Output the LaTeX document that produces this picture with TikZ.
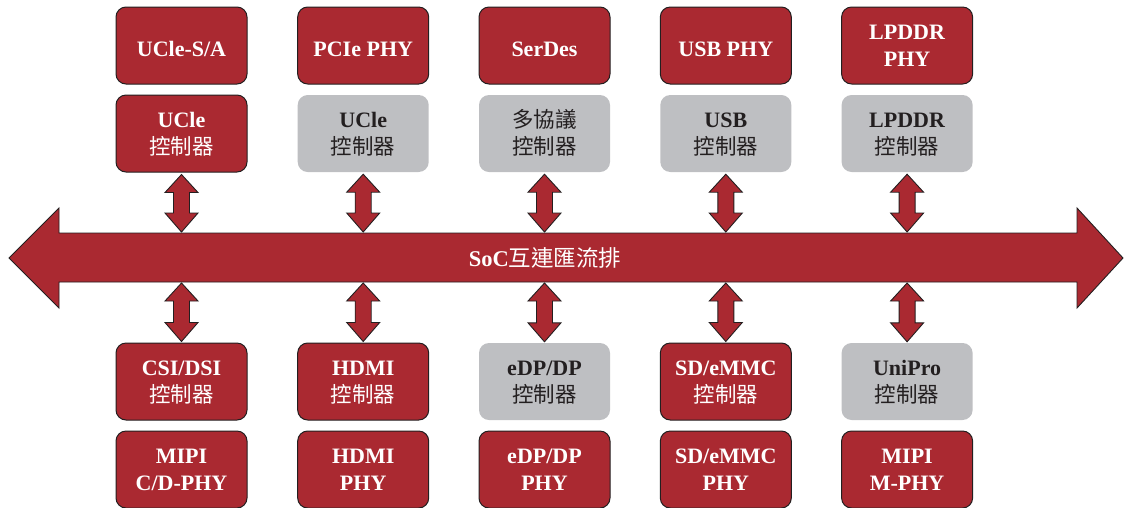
\documentclass[tikz,border=0pt]{standalone}
\usepackage{fontspec}
\setmainfont{Liberation Serif}
\newfontfamily\cjk{Noto Sans CJK TC}
\usetikzlibrary{calc}
\definecolor{busred}{RGB}{170,41,49}
\definecolor{boxgray}{RGB}{190,191,194}
\definecolor{edge}{RGB}{35,31,32}
\tikzset{
  base/.style={rounded corners=10pt, minimum width=131pt, minimum height=77pt,
    inner sep=0pt, align=center, font=\fontsize{22}{27}\selectfont\bfseries},
  redbox/.style={base, fill=busred, draw=edge, line width=1pt, text=white},
  graybox/.style={base, fill=boxgray, text=edge},
  blockarrow/.style={fill=busred, draw=edge, line width=0.9pt, line join=miter},
}
\newcommand\cj[1]{{\cjk\mdseries\fontsize{21.5}{27}\selectfont #1}}
% text layouts: one line / two lines, with fixed struts
\newcommand\one[1]{\rule{0pt}{27.6pt}#1\rule[-6pt]{0pt}{6pt}}
\newcommand\two[2]{\rule{0pt}{20pt}#1\\#2\rule[-6pt]{0pt}{6pt}}
% vertical block double arrow between two points
\newcommand\vdarrow[2]{%
  \path[blockarrow] let \p1=(#1), \p2=(#2) in
    (\x1,\y1) -- (\x1+16.5pt,\y1-18pt) -- (\x1+8pt,\y1-18pt) -- (\x1+8pt,\y2+19pt)
    -- (\x1+16.5pt,\y2+19pt) -- (\x1,\y2) -- (\x1-16.5pt,\y2+19pt) -- (\x1-8pt,\y2+19pt)
    -- (\x1-8pt,\y1-18pt) -- (\x1-16.5pt,\y1-18pt) -- cycle;}
\begin{document}
\begin{tikzpicture}[x=1pt,y=-1pt]
\useasboundingbox (0,0) rectangle (1124,507);
% columns
\def\cA{181.5}\def\cB{363.2}\def\cC{544.5}\def\cD{725.8}\def\cE{907.1}
% row 1
\node[redbox] (r1-1) at (\cA,45.5) {\one{UCle-S/A}};
\node[redbox] (r1-2) at (\cB,45.5) {\one{PCIe PHY}};
\node[redbox] (r1-3) at (\cC,45.5) {\one{SerDes}};
\node[redbox] (r1-4) at (\cD,45.5) {\one{USB PHY}};
\node[redbox] (r1-5) at (\cE,45.5) {\two{LPDDR}{PHY}};
% row 2
\node[redbox]  (r2-1) at (\cA,133.5) {\two{UCle}{\cj{控制器}}};
\node[graybox] (r2-2) at (\cB,133.5) {\two{UCle}{\cj{控制器}}};
\node[graybox] (r2-3) at (\cC,133.5) {\two{\cj{多協議}}{\cj{控制器}}};
\node[graybox] (r2-4) at (\cD,133.5) {\two{USB}{\cj{控制器}}};
\node[graybox] (r2-5) at (\cE,133.5) {\two{LPDDR}{\cj{控制器}}};
% row 3
\node[redbox]  (r3-1) at (\cA,381.5) {\two{CSI/DSI}{\cj{控制器}}};
\node[redbox]  (r3-2) at (\cB,381.5) {\two{HDMI}{\cj{控制器}}};
\node[graybox] (r3-3) at (\cC,381.5) {\two{eDP/DP}{\cj{控制器}}};
\node[redbox]  (r3-4) at (\cD,381.5) {\two{SD/eMMC}{\cj{控制器}}};
\node[graybox] (r3-5) at (\cE,381.5) {\two{UniPro}{\cj{控制器}}};
% row 4
\node[redbox] (r4-1) at (\cA,469.5) {\two{MIPI}{C/D-PHY}};
\node[redbox] (r4-2) at (\cB,469.5) {\two{HDMI}{PHY}};
\node[redbox] (r4-3) at (\cC,469.5) {\two{eDP/DP}{PHY}};
\node[redbox] (r4-4) at (\cD,469.5) {\two{SD/eMMC}{PHY}};
\node[redbox] (r4-5) at (\cE,469.5) {\two{MIPI}{M-PHY}};
% bus
\path[blockarrow] (9,258) -- (59,208) -- (59,233) -- (1077,233) -- (1077,208) -- (1123,258)
  -- (1077,308) -- (1077,282) -- (59,282) -- (59,308) -- cycle;
\node[text=white, font=\fontsize{22.5}{26}\selectfont\bfseries] (bus) at (545,257.5)
  {SoC{\cjk\mdseries\fontsize{22.5}{26}\selectfont 互連匯流排}};
\coordinate (bt) at (0,232);
\coordinate (bb) at (0,283);
% connectors
\foreach \i in {1,...,5}{
  \vdarrow{$(r2-\i.south)+(0,2)$}{r2-\i.south |- bt}
  \vdarrow{r3-\i.north |- bb}{$(r3-\i.north)+(0,-1)$}
}
\end{tikzpicture}
\end{document}
